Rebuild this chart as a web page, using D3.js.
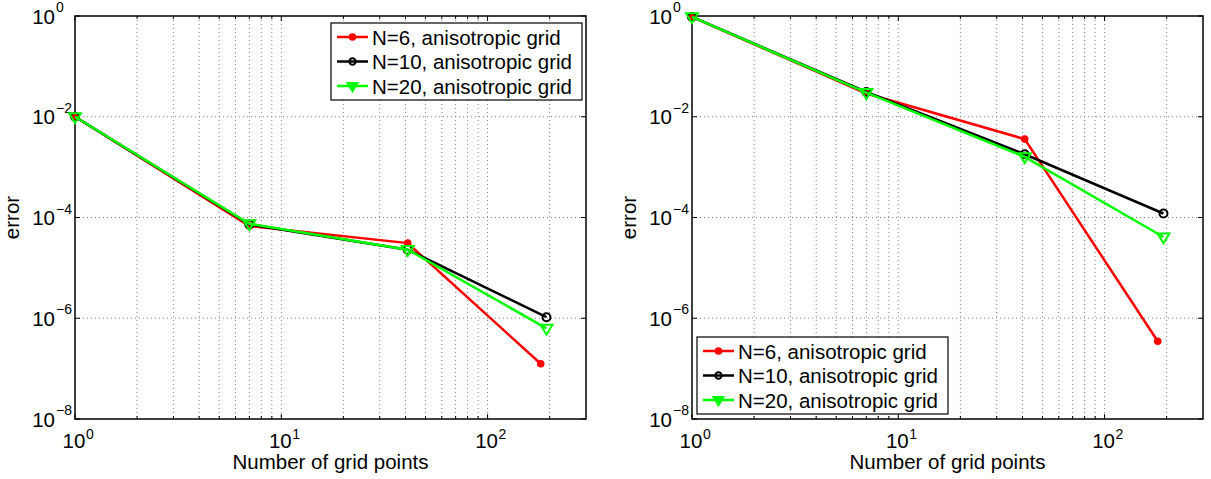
<!DOCTYPE html>
<html lang="en">
<head>
<meta charset="utf-8">
<title>Error vs number of grid points</title>
<script src="https://cdn.jsdelivr.net/npm/d3@7"></script>
<style>
  body { margin: 0; background: #fff; }
  text { font-family: "Liberation Sans", Arial, Helvetica, sans-serif; fill: #000; }
</style>
</head>
<body>
<script>
// series labels and colours
var seriesNames = ["N=6, anisotropic grid", "N=10, anisotropic grid", "N=20, anisotropic grid"];
var seriesColors = ["#ff0000", "#000000", "#00ff00"];
var seriesMarkers = ["dot", "circle", "triangle"];

// number of grid points per series
var pointsN6 = [1, 7, 41, 181];
var pointsN10 = [1, 7, 41, 193];
var pointsN20 = [1, 7, 41, 193];

// left panel errors
var leftErrN6 = [1e-2, 6.8e-5, 3.1e-5, 1.25e-7];
var leftErrN10 = [1e-2, 7.3e-5, 2.3e-5, 1.05e-6];
var leftErrN20 = [1e-2, 7.5e-5, 2.3e-5, 6.3e-7];

// right panel errors
var rightErrN6 = [0.96, 0.029, 3.6e-3, 3.5e-7];
var rightErrN10 = [0.96, 0.031, 1.8e-3, 1.2e-4];
var rightErrN20 = [0.96, 0.030, 1.6e-3, 4.1e-5];

// axis ticks
var xMajor = [1, 10, 100];
var xExp = ["0", "1", "2"];
var yMajor = [1, 1e-2, 1e-4, 1e-6, 1e-8];
var yExp = ["0", "\u22122", "\u22124", "\u22126", "\u22128"];

var w = 1211, h = 479;
var plotTop = 16, plotBottom = 419;
var fs = 20.5, fsExp = 14;

var svg = d3.select("body").append("svg")
    .attr("width", w)
    .attr("height", h);

function drawPanel(x0, x1, errs, legendPos) {
  var g = svg.append("g");
  var x = d3.scaleLog().domain([1, 300]).range([x0, x1]);
  var y = d3.scaleLog().domain([1e-8, 1]).range([plotBottom, plotTop]);

  // minor x values (2..9 per decade)
  var xMinor = [];
  [1, 10, 100].forEach(function(d) {
    for (var k = 2; k <= 9; k++) {
      if (d * k < 300) xMinor.push(d * k);
    }
  });
  var xGrid = xMajor.slice(1).concat(xMinor);

  // dotted grid
  g.selectAll(".gx").data(xGrid).enter().append("line")
    .attr("x1", function(d) { return x(d); })
    .attr("x2", function(d) { return x(d); })
    .attr("y1", plotTop).attr("y2", plotBottom)
    .attr("stroke", "#777").attr("stroke-width", 0.9)
    .attr("stroke-dasharray", "1,3");
  g.selectAll(".gy").data(yMajor.slice(1, 4)).enter().append("line")
    .attr("y1", function(d) { return y(d); })
    .attr("y2", function(d) { return y(d); })
    .attr("x1", x0).attr("x2", x1)
    .attr("stroke", "#777").attr("stroke-width", 0.9)
    .attr("stroke-dasharray", "1,3");

  // ticks, inside, on all four sides
  var tickLen = 5;
  var xt = xMajor.concat(xMinor);
  xt.forEach(function(d) {
    var len = xMajor.indexOf(d) >= 0 ? tickLen : tickLen * 0.6;
    g.append("line").attr("x1", x(d)).attr("x2", x(d))
      .attr("y1", plotBottom).attr("y2", plotBottom - len).attr("stroke", "#000");
    g.append("line").attr("x1", x(d)).attr("x2", x(d))
      .attr("y1", plotTop).attr("y2", plotTop + len).attr("stroke", "#000");
  });
  yMajor.forEach(function(d) {
    g.append("line").attr("y1", y(d)).attr("y2", y(d))
      .attr("x1", x0).attr("x2", x0 + tickLen).attr("stroke", "#000");
    g.append("line").attr("y1", y(d)).attr("y2", y(d))
      .attr("x1", x1).attr("x2", x1 - tickLen).attr("stroke", "#000");
  });

  // frame
  g.append("rect").attr("x", x0).attr("y", plotTop)
    .attr("width", x1 - x0).attr("height", plotBottom - plotTop)
    .attr("fill", "none").attr("stroke", "#000").attr("stroke-width", 1.5);

  // x tick labels
  xMajor.forEach(function(d, i) {
    g.append("text").attr("x", x(d) - 1).attr("y", 448)
      .attr("text-anchor", "middle").attr("font-size", fs).text("10");
    g.append("text").attr("x", x(d) + 11).attr("y", 439)
      .attr("font-size", fsExp).text(xExp[i]);
  });
  // y tick labels
  yMajor.forEach(function(d, i) {
    g.append("text").attr("x", x0 - 20).attr("y", y(d) + 7.5)
      .attr("text-anchor", "end").attr("font-size", fs).text("10");
    g.append("text").attr("x", x0 - 19).attr("y", y(d) - 4)
      .attr("font-size", fsExp).text(yExp[i]);
  });

  // axis titles
  g.append("text").attr("x", (x0 + x1) / 2).attr("y", 469)
    .attr("text-anchor", "middle").attr("font-size", fs)
    .text("Number of grid points");
  g.append("text")
    .attr("transform", "translate(" + (x0 - 56) + "," + ((plotTop + plotBottom) / 2) + ") rotate(-90)")
    .attr("text-anchor", "middle").attr("font-size", fs)
    .text("error");

  // data lines and markers
  var pts = [pointsN6, pointsN10, pointsN20];
  var line = d3.line()
    .x(function(d) { return x(d[0]); })
    .y(function(d) { return y(d[1]); });

  errs.forEach(function(e, s) {
    var data = pts[s].map(function(p, i) { return [p, e[i]]; });
    g.append("path").datum(data)
      .attr("d", line)
      .attr("fill", "none")
      .attr("stroke", seriesColors[s])
      .attr("stroke-width", 2.5);
    data.forEach(function(d) {
      drawMarker(g, seriesMarkers[s], x(d[0]), y(d[1]), seriesColors[s], false);
    });
  });

  // legend
  var lx = legendPos[0], ly = legendPos[1];
  var lg = g.append("g");
  lg.append("rect").attr("x", lx).attr("y", ly)
    .attr("width", 251).attr("height", 77)
    .attr("fill", "#fff").attr("stroke", "#000").attr("stroke-width", 1.2);
  seriesNames.forEach(function(name, s) {
    var ry = ly + 14 + s * 24.5;
    lg.append("line").attr("x1", lx + 6).attr("x2", lx + 37)
      .attr("y1", ry).attr("y2", ry)
      .attr("stroke", seriesColors[s]).attr("stroke-width", 2.5);
    drawMarker(lg, seriesMarkers[s], lx + 21.5, ry, seriesColors[s], true);
    lg.append("text").attr("x", lx + 41).attr("y", ry + 7.5)
      .attr("font-size", fs).text(name);
  });
}

function drawMarker(g, type, cx, cy, color, inLegend) {
  if (type === "dot") {
    g.append("circle").attr("cx", cx).attr("cy", cy).attr("r", 3.8)
      .attr("fill", color);
  } else if (type === "circle") {
    g.append("circle").attr("cx", cx).attr("cy", cy).attr("r", inLegend ? 3.2 : 4)
      .attr("fill", "none").attr("stroke", color).attr("stroke-width", 2);
  } else {
    var s = inLegend ? 5 : 6;
    g.append("path")
      .attr("d", "M" + (cx - s) + "," + (cy - s * 0.6) + "L" + (cx + s) + "," + (cy - s * 0.6) + "L" + cx + "," + (cy + s * 1.05) + "Z")
      .attr("fill", inLegend ? color : "none")
      .attr("stroke", color).attr("stroke-width", 2);
  }
}

drawPanel(75, 586, [leftErrN6, leftErrN10, leftErrN20], [331, 23]);
drawPanel(692, 1203, [rightErrN6, rightErrN10, rightErrN20], [697, 337]);
</script>
</body>
</html>
